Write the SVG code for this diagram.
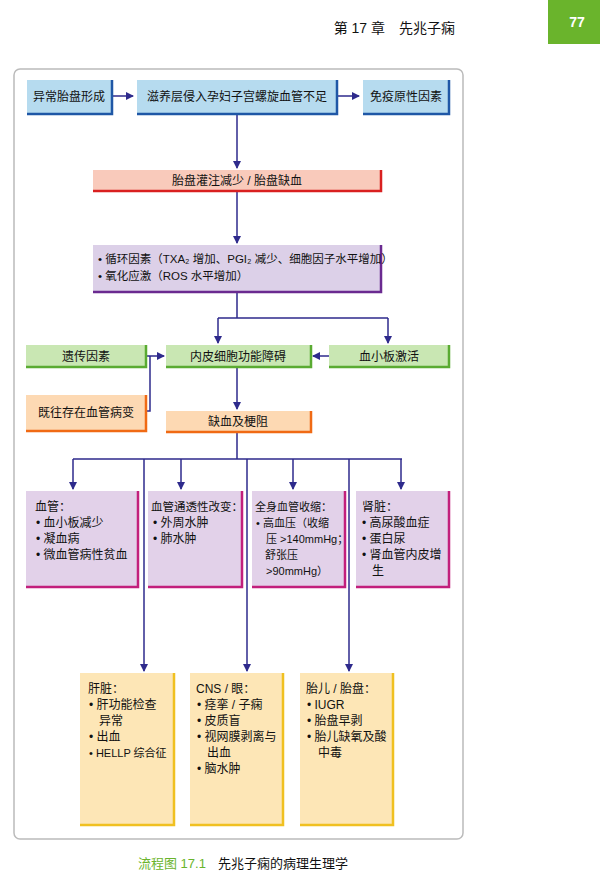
<svg xmlns="http://www.w3.org/2000/svg" width="600" height="875" viewBox="0 0 600 875">
<defs>
<style>
text{font-family:"Liberation Sans","Noto Sans CJK SC",sans-serif;font-size:12px;fill:#111}
.c{text-anchor:middle}
.s{font-size:11px}
.ln{stroke:#2e2a8c;stroke-width:1.5;fill:none}
</style>
<marker id="a" markerWidth="8" markerHeight="8" refX="7" refY="4" orient="auto" markerUnits="userSpaceOnUse"><path d="M0,0 L8,4 L0,8 z" fill="#2e2a8c"/></marker>
</defs>
<rect width="600" height="875" fill="#fff"/>
<g id="header">
<text x="455" y="33" style="font-size:14px;text-anchor:end">第 17 章　先兆子痫</text>
<rect x="548" y="0" width="52" height="44" fill="#6ab42c"/>
<text x="577" y="27" class="c" style="fill:#fff;font-size:14px;font-weight:bold">77</text>
</g>
<rect x="14" y="69" width="449" height="770" rx="6" fill="#fff" stroke="#bbb" stroke-width="1.5"/>
<g id="connectors">
<path class="ln" d="M112,96 H133" marker-end="url(#a)"/>
<path class="ln" d="M337,96 H359" marker-end="url(#a)"/>
<path class="ln" d="M237,114 V168" marker-end="url(#a)"/>
<path class="ln" d="M237,192 V243" marker-end="url(#a)"/>
<path class="ln" d="M237,292 V318 M218,318 H388"/>
<path class="ln" d="M218,318 V343" marker-end="url(#a)"/>
<path class="ln" d="M388,318 V343" marker-end="url(#a)"/>
<path class="ln" d="M329,356 H313" marker-end="url(#a)"/>
<path class="ln" d="M146,356 H150 V411 H146 M150,356 H164" marker-end="url(#a)"/>
<path class="ln" d="M237,367 V409" marker-end="url(#a)"/>
<path class="ln" d="M237,432 V459 M73,459 H402"/>
<path class="ln" d="M73,459 V489" marker-end="url(#a)"/>
<path class="ln" d="M181,459 V489" marker-end="url(#a)"/>
<path class="ln" d="M293,459 V489" marker-end="url(#a)"/>
<path class="ln" d="M401,459 V489" marker-end="url(#a)"/>
<path class="ln" d="M144,459 V671" marker-end="url(#a)"/>
<path class="ln" d="M247,459 V671" marker-end="url(#a)"/>
<path class="ln" d="M349,459 V671" marker-end="url(#a)"/>
</g>
<g id="n1"><rect x="27" y="80" width="85" height="34" fill="#b6dbef"/><path d="M27,114 H112 V80" stroke="#1f57a6" stroke-width="2.5" fill="none"/><text x="69" y="101" class="c">异常胎盘形成</text></g>
<g id="n2"><rect x="137" y="80" width="200" height="34" fill="#b6dbef"/><path d="M137,114 H337 V80" stroke="#1f57a6" stroke-width="2.5" fill="none"/><text x="237" y="101" class="c">滋养层侵入孕妇子宫螺旋血管不足</text></g>
<g id="n3"><rect x="363" y="80" width="86" height="34" fill="#b6dbef"/><path d="M363,114 H449 V80" stroke="#1f57a6" stroke-width="2.5" fill="none"/><text x="406" y="101" class="c">免疫原性因素</text></g>
<g id="n4"><rect x="93" y="170" width="288" height="21" fill="#f9cabb"/><path d="M93,191 H381 V170" stroke="#d92020" stroke-width="2.5" fill="none"/><text x="237" y="185" class="c">胎盘灌注减少 / 胎盘缺血</text></g>
<g id="n5"><rect x="93" y="245" width="288" height="47" fill="#dcd0e8"/><path d="M93,292 H381 V245" stroke="#6a2a90" stroke-width="2.5" fill="none"/><text x="98" y="263" style="font-size:11.5px">• 循环因素（TXA₂ 增加、PGI₂ 减少、细胞因子水平增加）</text><text x="98" y="280" style="font-size:11.5px">• 氧化应激（ROS 水平增加）</text></g>
<g id="n6"><rect x="26" y="345" width="120" height="22" fill="#c9e7b3"/><path d="M26,367 H146 V345" stroke="#5aab32" stroke-width="2.5" fill="none"/><text x="86" y="361" class="c">遗传因素</text></g>
<g id="n7"><rect x="166" y="345" width="145" height="22" fill="#c9e7b3"/><path d="M166,367 H311 V345" stroke="#5aab32" stroke-width="2.5" fill="none"/><text x="238" y="361" class="c">内皮细胞功能障碍</text></g>
<g id="n8"><rect x="329" y="345" width="120" height="22" fill="#c9e7b3"/><path d="M329,367 H449 V345" stroke="#5aab32" stroke-width="2.5" fill="none"/><text x="389" y="361" class="c">血小板激活</text></g>
<g id="n9"><rect x="26" y="395" width="120" height="36" fill="#fdd9b3"/><path d="M26,431 H146 V395" stroke="#f06a14" stroke-width="2.5" fill="none"/><text x="86" y="417" class="c">既往存在血管病变</text></g>
<g id="n10"><rect x="166" y="411" width="145" height="21" fill="#fdd9b3"/><path d="M166,432 H311 V411" stroke="#f06a14" stroke-width="2.5" fill="none"/><text x="238" y="426" class="c">缺血及梗阻</text></g>
<g id="n11"><rect x="26" y="491" width="112" height="96" fill="#e2d1e9"/><path d="M26,587 H138 V491" stroke="#c21f7c" stroke-width="2.5" fill="none"/><text x="35" y="511">血管：</text><text x="36" y="527">• 血小板减少</text><text x="36" y="543">• 凝血病</text><text x="36" y="559">• 微血管病性贫血</text></g>
<g id="n12"><rect x="148" y="491" width="94" height="96" fill="#e2d1e9"/><path d="M148,587 H242 V491" stroke="#c21f7c" stroke-width="2.5" fill="none"/><text x="151" y="511" style="font-size:11.5px">血管通透性改变：</text><text x="153" y="527">• 外周水肿</text><text x="153" y="543">• 肺水肿</text></g>
<g id="n13"><rect x="252" y="491" width="93" height="96" fill="#e2d1e9"/><path d="M252,587 H345 V491" stroke="#c21f7c" stroke-width="2.5" fill="none"/><text x="255" y="511" class="s">全身血管收缩：</text><text x="256" y="527" class="s">• 高血压（收缩</text><text x="266" y="543" class="s">压 &gt;140mmHg；</text><text x="265" y="559" class="s">舒张压</text><text x="266" y="575" class="s">&gt;90mmHg）</text></g>
<g id="n14"><rect x="356" y="491" width="93" height="96" fill="#e2d1e9"/><path d="M356,587 H449 V491" stroke="#c21f7c" stroke-width="2.5" fill="none"/><text x="362" y="511">肾脏：</text><text x="362" y="527">• 高尿酸血症</text><text x="362" y="543">• 蛋白尿</text><text x="362" y="559">• 肾血管内皮增</text><text x="372" y="575">生</text></g>
<g id="n15"><rect x="80" y="673" width="94" height="152" fill="#fde6b6"/><path d="M80,825 H174 V673" stroke="#f0c020" stroke-width="2.5" fill="none"/><text x="88" y="693">肝脏：</text><text x="89" y="709">• 肝功能检查</text><text x="99" y="725">异常</text><text x="89" y="741">• 出血</text><text x="89" y="757" class="s">• HELLP 综合征</text></g>
<g id="n16"><rect x="190" y="673" width="93" height="152" fill="#fde6b6"/><path d="M190,825 H283 V673" stroke="#f0c020" stroke-width="2.5" fill="none"/><text x="196" y="693">CNS / 眼：</text><text x="197" y="709">• 痉挛 / 子痫</text><text x="197" y="725">• 皮质盲</text><text x="197" y="741">• 视网膜剥离与</text><text x="207" y="757">出血</text><text x="197" y="773">• 脑水肿</text></g>
<g id="n17"><rect x="300" y="673" width="93" height="152" fill="#fde6b6"/><path d="M300,825 H393 V673" stroke="#f0c020" stroke-width="2.5" fill="none"/><text x="306" y="693">胎儿 / 胎盘：</text><text x="307" y="709">• IUGR</text><text x="307" y="725">• 胎盘早剥</text><text x="307" y="741">• 胎儿缺氧及酸</text><text x="318" y="757">中毒</text></g>
<g id="caption"><text x="138" y="868" style="fill:#6ab42c;font-size:13px">流程图 17.1</text><text x="218" y="868" style="font-size:13px">先兆子痫的病理生理学</text></g>
</svg>
